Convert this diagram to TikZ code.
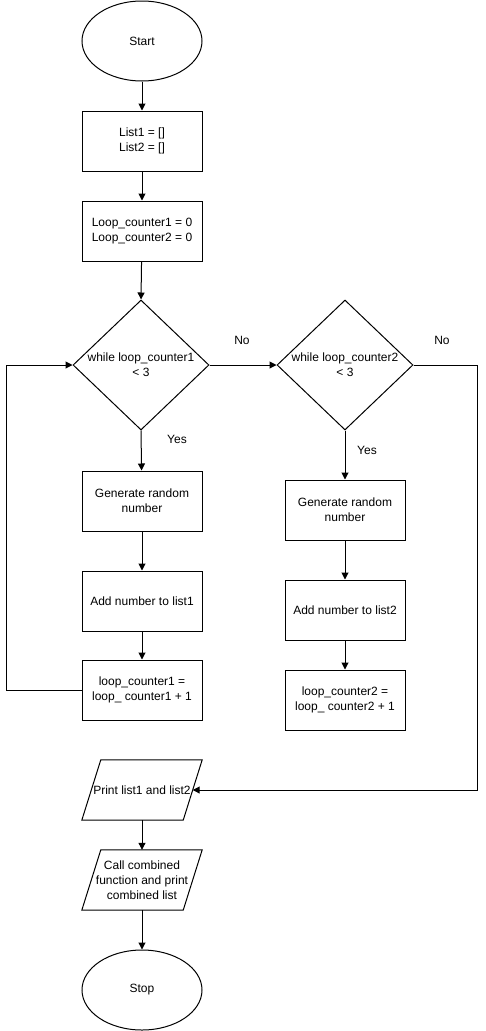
\documentclass[tikz,border=0pt]{standalone}
\usepackage{fontspec}
\setmainfont{Liberation Sans}
\usetikzlibrary{shapes.geometric,arrows.meta}
\begin{document}
\begin{tikzpicture}[x=1pt,y=-1pt,
  every node/.style={font=\fontsize{12}{15}\selectfont, text=black},
  box/.style={draw, line width=1pt, minimum width=120pt, minimum height=60pt, inner sep=0pt, align=center},
  oval/.style={draw, line width=1pt, ellipse, minimum width=120pt, minimum height=80pt, inner sep=0pt},
  dia/.style={draw, line width=1pt, diamond, minimum width=136pt, minimum height=130pt, inner sep=0pt},
  pbox/.style={minimum width=120pt, minimum height=60pt, inner sep=0pt, align=center},
  pshape/.style={draw, line width=1pt, line join=miter},
  lbl/.style={align=center, inner sep=0pt},
  arr/.style={draw, line width=1pt, -{Triangle[length=7pt,width=7pt]}},
  ln/.style={draw, line width=1pt}]
\useasboundingbox (0,0) rectangle (486,1031);
\node[oval] (start) at (142,41) {Start};
\node[box] (r1) at (142,141) {List1 = []\\List2 = []};
\node[box] (r2) at (142,231) {Loop\_counter1 = 0\\Loop\_counter2 = 0};
\node[dia] (d1) at (141,365) {};
\node[lbl] (d1t) at (141,365) {while loop\_counter1\\< 3};
\node[dia] (d2) at (345,365) {};
\node[lbl] (d2t) at (345,365) {while loop\_counter2\\< 3};
\node[box] (r3) at (142,501) {Generate random\\number};
\node[box] (r4) at (142,601) {Add number to list1};
\node[box] (r5) at (142,690) {loop\_counter1 =\\loop\_ counter1 + 1};
\node[box] (r6) at (345,510) {Generate random\\number};
\node[box] (r7) at (345,610) {Add number to list2};
\node[box] (r8) at (345,700) {loop\_counter2 =\\loop\_ counter2 + 1};
\node[pbox] (p1) at (142,790) {Print list1 and list2};
\draw[pshape] (p1.south west) -- ([xshift=-19pt]p1.south east) -- (p1.north east) -- ([xshift=19pt]p1.north west) -- cycle;
\node[pbox] (p2) at (142,880) {Call combined\\function and print\\combined list};
\draw[pshape] (p2.south west) -- ([xshift=-19pt]p2.south east) -- (p2.north east) -- ([xshift=19pt]p2.north west) -- cycle;
\node[oval] (stop) at (142,990) {Stop};
\node (no1) at (242,340) {No};
\node (no2) at (442,340) {No};
\node (yes1) at (177,439) {Yes};
\node (yes2) at (367,450) {Yes};
\draw[arr] (start) -- (r1);
\draw[arr] (r1) -- (r2);
\draw[arr] (r2) -- (d1.north);
\draw[arr] (d1.south) -- (r3);
\draw[arr] (r3) -- (r4);
\draw[arr] (r4) -- (r5);
\draw[arr] (r5.west) -- ++(-75,0) |- (d1.west);
\draw[arr] (d1.east) -- (d2.west);
\draw[arr] (d2.south) -- (r6);
\draw[arr] (r6) -- (r7);
\draw[arr] (r7) -- (r8);
\draw[arr] (d2.east) -- ++(64,0) |- ([xshift=-9.5pt]p1.east);
\draw[arr] (p1) -- (p2);
\draw[arr] (p2) -- (stop);
\end{tikzpicture}
\end{document}
